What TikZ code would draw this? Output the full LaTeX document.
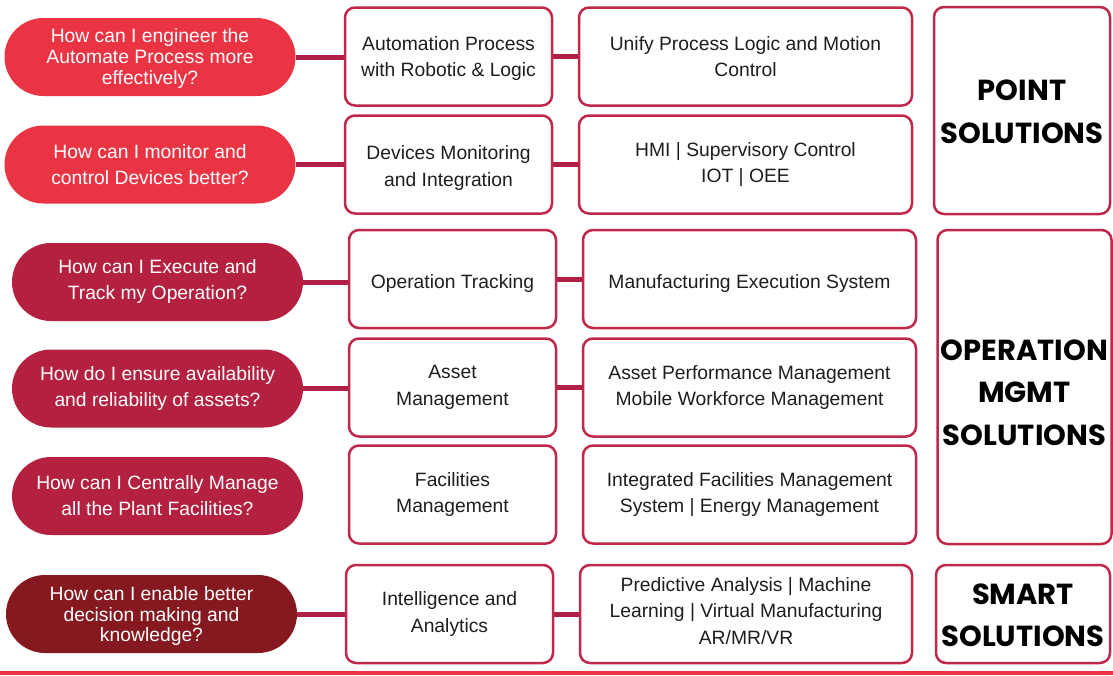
\documentclass[tikz,border=0pt]{standalone}
\usepackage{fontspec}
\setmainfont{Liberation Sans}
\newfontfamily\popfont{Poppins}
\usetikzlibrary{backgrounds}
\definecolor{redA}{HTML}{EB3443}
\definecolor{redB}{HTML}{B4203F}
\definecolor{redC}{HTML}{861820}
\definecolor{conn}{HTML}{B01F45}
\definecolor{bord}{HTML}{C0284A}
\definecolor{txt}{HTML}{1E1E1E}
% lower the ink of a (multi-line) label without changing the box size
\newcommand\lowerby[2]{\raisebox{-#1}[\height][\depth]{\begin{tabular}{@{}c@{}}#2\end{tabular}}}
\tikzset{
  pill/.style={draw=none, rectangle, rounded corners=39pt, minimum width=291pt, minimum height=78pt,
     inner sep=0pt, align=center, text=white, font=\fontsize{19.3}{26}\selectfont},
  tight/.style={font=\fontsize{19.3}{20.8}\selectfont},
  box/.style={draw=bord, line width=2.5pt, rectangle, rounded corners=10pt, fill=white,
     minimum height=98pt, inner sep=0pt, align=center, text=txt, font=\fontsize{19.3}{26.5}\selectfont},
  midbox/.style={box, minimum width=207pt},
  solbox/.style={box, minimum width=333pt},
  catbox/.style={box, minimum width=174pt, text=black, font=\popfont\bfseries\fontsize{29}{42.5}\selectfont},
  link/.style={draw=conn, line width=5pt},
}
\begin{document}
\begin{tikzpicture}[x=1pt,y=-1pt]
\useasboundingbox (0,0) rectangle (1113,675);
% row 1
\node[pill, fill=redA, tight] (p1) at (150,57) {\lowerby{2.5pt}{How can I engineer the\\Automate Process more\\effectively?}};
\node[midbox] (m1) at (448.5,56.5) {\lowerby{1.5pt}{Automation Process\\with Robotic \& Logic}};
\node[solbox] (s1) at (745.5,56.5) {\lowerby{1.5pt}{Unify Process Logic and Motion\\Control}};
% row 2
\node[pill, fill=redA] (p2) at (150,164.5) {How can I monitor and\\control Devices better?};
\node[midbox] (m2) at (448.5,164.5) {\lowerby{3pt}{Devices Monitoring\\and Integration}};
\node[solbox] (s2) at (745.5,164.5) {HMI | Supervisory Control\\IOT | OEE};
\node[catbox, minimum width=176pt, minimum height=207pt] (c1) at (1022,110.5) {\lowerby{3pt}{POINT\\SOLUTIONS}};
% row 3
\node[pill, fill=redB] (p3) at (157.5,282) {How can I Execute and\\Track my Operation?};
\node[midbox] (m3) at (452.5,279) {\lowerby{4pt}{Operation Tracking}};
\node[solbox] (s3) at (749.5,279) {\lowerby{4.5pt}{Manufacturing Execution System}};
% row 4
\node[pill, fill=redB] (p4) at (157.5,388.5) {How do I ensure availability\\and reliability of assets?};
\node[midbox] (m4) at (452.5,387.5) {Asset\\Management};
\node[solbox] (s4) at (749.5,387.5) {Asset Performance Management\\Mobile Workforce Management};
% row 5
\node[pill, fill=redB] (p5) at (157.5,496) {How can I Centrally Manage\\all the Plant Facilities?};
\node[midbox] (m5) at (452.5,494.5) {Facilities\\Management};
\node[solbox] (s5) at (749.5,494.5) {Integrated Facilities Management\\System | Energy Management};
\node[catbox, minimum height=314pt] (c2) at (1024.5,387) {\lowerby{7pt}{OPERATION\\MGMT\\SOLUTIONS}};
% row 6
\node[pill, fill=redC, tight] (p6) at (151.5,614) {\lowerby{3pt}{How can I enable better\\decision making and\\knowledge?}};
\node[midbox] (m6) at (449.5,614) {Intelligence and\\Analytics};
\node[solbox, minimum width=332pt] (s6) at (746,614) {\lowerby{-1.5pt}{Predictive Analysis | Machine\\Learning | Virtual Manufacturing\\AR/MR/VR}};
\node[catbox] (c3) at (1023,614) {\lowerby{3pt}{SMART\\SOLUTIONS}};
% bottom rule
\coordinate (bl) at (0,673);
\coordinate (br) at (1113,673);
\draw[draw=redA, line width=4.5pt] (bl) -- (br);
% connectors
\begin{scope}[on background layer]
\draw[link] (p1.east) -- (p1.east -| m1.west);
\draw[link] (m1.east) -- (s1.west);
\draw[link] (p2.east) -- (p2.east -| m2.west);
\draw[link] (m2.east) -- (s2.west);
\draw[link] (p3.east) -- (p3.east -| m3.west);
\draw[link] (m3.east) -- (s3.west);
\draw[link] (p4.east) -- (p4.east -| m4.west);
\draw[link] (m4.east) -- (s4.west);
\draw[link] (p6.east) -- (p6.east -| m6.west);
\draw[link] (m6.east) -- (s6.west);
\end{scope}
\end{tikzpicture}
\end{document}
